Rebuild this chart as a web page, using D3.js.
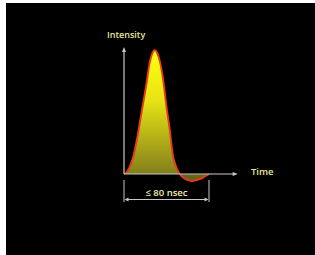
<!DOCTYPE html>
<html>
<head>
<meta charset="utf-8">
<script src="https://cdn.jsdelivr.net/npm/d3@7"></script>
<style>
  html, body { margin: 0; padding: 0; background: #fff; }
  svg { display: block; }
</style>
</head>
<body>
<svg id="chart" width="315" height="255"></svg>
<script>
// pulse shape, time in nsec, intensity normalised to the peak
var times = [0, 3, 6, 9, 12, 15, 18, 21, 24, 27, 29, 31, 34, 37, 40, 43, 46, 49, 52, 56, 60, 64, 68, 72, 76, 80];
var intensity = [0, 0.02, 0.07, 0.15, 0.27, 0.42, 0.57, 0.72, 0.89, 0.98, 1.0, 0.98, 0.9, 0.75, 0.54, 0.36, 0.15, 0.06, 0.005, -0.03, -0.05, -0.056, -0.05, -0.04, -0.02, 0];
var pulseWidth = 80;
var labels = { y: "Intensity", x: "Time", width: "\u2264 80 nsec" };

var data = times.map(function(t, i) { return { t: t, v: intensity[i] }; });

var svg = d3.select("#chart");

svg.append("rect")
  .attr("x", 6).attr("y", 3)
  .attr("width", 309).attr("height", 252)
  .attr("fill", "#000");

var x = d3.scaleLinear().domain([0, 80]).range([124, 209]);
var y = d3.scaleLinear().domain([0, 1]).range([174, 50]);

var defs = svg.append("defs");
var grad = defs.append("linearGradient")
  .attr("id", "fillGrad")
  .attr("gradientUnits", "userSpaceOnUse")
  .attr("x1", 0).attr("y1", y(1))
  .attr("x2", 0).attr("y2", y(0));
grad.append("stop").attr("offset", "0%").attr("stop-color", "#ffff10");
grad.append("stop").attr("offset", "40%").attr("stop-color", "#e8e414");
grad.append("stop").attr("offset", "100%").attr("stop-color", "#837f1c");

var glow = defs.append("filter").attr("id", "glow")
  .attr("x", "-20%").attr("y", "-20%").attr("width", "140%").attr("height", "140%");
glow.append("feGaussianBlur").attr("stdDeviation", 0.7);

var area = d3.area()
  .x(function(d) { return x(d.t); })
  .y0(y(0))
  .y1(function(d) { return y(d.v); })
  .curve(d3.curveMonotoneX);

var line = d3.line()
  .x(function(d) { return x(d.t); })
  .y(function(d) { return y(d.v); })
  .curve(d3.curveMonotoneX);

// undershoot part gets a darker fill
var under = data.filter(function(d) { return d.t >= 52; });

svg.append("path")
  .datum(data)
  .attr("d", area)
  .attr("fill", "url(#fillGrad)");

svg.append("path")
  .datum(under)
  .attr("d", area)
  .attr("fill", "#66621a");

svg.append("path")
  .datum(data)
  .attr("d", line)
  .attr("fill", "none")
  .attr("stroke", "#e83a18")
  .attr("stroke-width", 1.9)
  .attr("filter", "url(#glow)");

// axes with arrow heads
var axisColor = "#c8c8c8";
var xEnd = x(107), yTop = y(1.025);

svg.append("line")
  .attr("x1", x(0)).attr("y1", y(0))
  .attr("x2", xEnd - 3).attr("y2", y(0))
  .attr("stroke", axisColor).attr("stroke-width", 1.2);
svg.append("path")
  .attr("d", "M" + xEnd + "," + y(0) + "l-5,-2v4z")
  .attr("fill", axisColor);

svg.append("line")
  .attr("x1", x(0)).attr("y1", y(0))
  .attr("x2", x(0)).attr("y2", yTop + 3)
  .attr("stroke", axisColor).attr("stroke-width", 1.2);
svg.append("path")
  .attr("d", "M" + x(0) + "," + yTop + "l-2,5h4z")
  .attr("fill", axisColor);

svg.append("text")
  .attr("x", 107).attr("y", 38)
  .attr("fill", "#e6e69a")
  .attr("font-family", "'Open Sans', sans-serif")
  .attr("font-weight", 600)
  .attr("font-size", 9)
  .text(labels.y);

svg.append("text")
  .attr("x", 251).attr("y", 175)
  .attr("fill", "#e6e69a")
  .attr("font-family", "'Open Sans', sans-serif")
  .attr("font-weight", 600)
  .attr("font-size", 9.5)
  .text(labels.x);

// pulse width bracket
var bTop = 180, bBot = 202, bY = 199.5;
[0, pulseWidth].forEach(function(t) {
  svg.append("line")
    .attr("x1", x(t)).attr("x2", x(t))
    .attr("y1", bTop).attr("y2", bBot)
    .attr("stroke", axisColor).attr("stroke-width", 1);
});
svg.append("line")
  .attr("x1", x(0) + 3).attr("x2", x(pulseWidth) - 3)
  .attr("y1", bY).attr("y2", bY)
  .attr("stroke", axisColor).attr("stroke-width", 1);
svg.append("path")
  .attr("d", "M" + (x(0) + 0.5) + "," + bY + "l4,-2v4z")
  .attr("fill", axisColor);
svg.append("path")
  .attr("d", "M" + (x(pulseWidth) - 0.5) + "," + bY + "l-4,-2v4z")
  .attr("fill", axisColor);

svg.append("text")
  .attr("x", (x(0) + x(pulseWidth)) / 2).attr("y", 196)
  .attr("text-anchor", "middle")
  .attr("fill", "#f0f0a8")
  .attr("font-family", "'Open Sans', sans-serif")
  .attr("font-weight", 600)
  .attr("font-size", 9.5)
  .text(labels.width);
</script>
</body>
</html>
